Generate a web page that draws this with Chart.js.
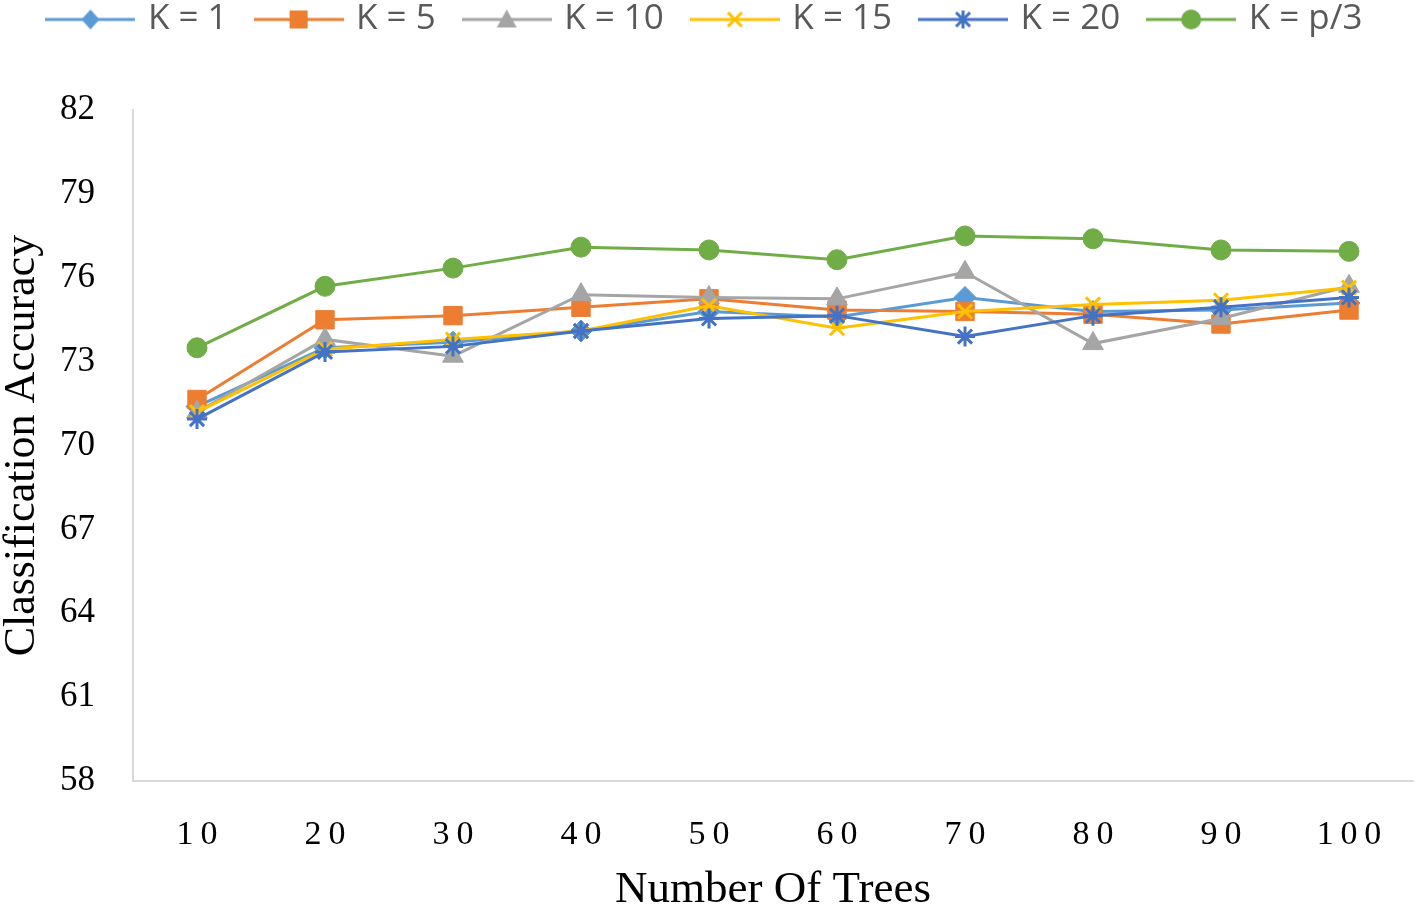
<!DOCTYPE html>
<html>
<head>
<meta charset="utf-8">
<script src="https://cdn.jsdelivr.net/npm/chart.js@4.4.1/dist/chart.umd.min.js"></script>
<style>
    html, body { margin: 0; padding: 0; background: #fff; overflow: hidden; }
    .chart-wrap { width: 1415px; height: 908px; position: relative; }
    .chart-wrap canvas { display: block; }
</style>
</head>
<body>
<div class="chart-wrap"><canvas id="accuracyChart"></canvas></div>
<script>
// Chart data
const treeCounts = ['10', '20', '30', '40', '50', '60', '70', '80', '90', '100'];
const seriesNames = ['K = 1', 'K = 5', 'K = 10', 'K = 15', 'K = 20', 'K = p/3'];
const accK1  = [71.4, 73.5, 73.7, 74.1, 74.8, 74.6, 75.3, 74.8, 74.85, 75.1];
const accK5  = [71.65, 74.5, 74.65, 74.95, 75.25, 74.85, 74.8, 74.7, 74.35, 74.85];
const accK10 = [71.2, 73.8, 73.2, 75.4, 75.3, 75.25, 76.2, 73.65, 74.55, 75.7];
const accK15 = [71.2, 73.45, 73.8, 74.1, 75.0, 74.2, 74.8, 75.05, 75.2, 75.65];
const accK20 = [70.95, 73.35, 73.55, 74.1, 74.55, 74.65, 73.9, 74.65, 74.95, 75.3];
const accKp3 = [73.5, 75.7, 76.35, 77.1, 77.0, 76.65, 77.5, 77.4, 77.0, 76.95];
const yMin = 58;
const yMax = 82;
const yStep = 3;

const seriesData = [accK1, accK5, accK10, accK15, accK20, accKp3];
const colors = ['#5B9BD5', '#ED7D31', '#A5A5A5', '#FFC000', '#4472C4', '#70AD47'];
const markers = ['rectRot', 'rect', 'triangle', 'crossRot', 'star', 'circle'];
const radii = [11, 13, 12, 10, 10, 10];

// Small line + marker icons for the legend
function makeLegendIcon(color, marker) {
    const c = document.createElement('canvas');
    c.width = 90;
    c.height = 30;
    const ctx = c.getContext('2d');
    const cx = 45, cy = 15;
    ctx.strokeStyle = color;
    ctx.fillStyle = color;
    ctx.lineWidth = 3;
    ctx.beginPath();
    ctx.moveTo(0, cy);
    ctx.lineTo(90, cy);
    ctx.stroke();
    ctx.beginPath();
    if (marker === 'rectRot') {
        ctx.moveTo(cx, cy - 10); ctx.lineTo(cx + 9, cy); ctx.lineTo(cx, cy + 10); ctx.lineTo(cx - 9, cy);
        ctx.closePath(); ctx.fill();
    } else if (marker === 'rect') {
        ctx.rect(cx - 9, cy - 9, 18, 18); ctx.fill();
    } else if (marker === 'triangle') {
        ctx.moveTo(cx, cy - 10); ctx.lineTo(cx + 10, cy + 8); ctx.lineTo(cx - 10, cy + 8);
        ctx.closePath(); ctx.fill();
    } else if (marker === 'crossRot') {
        ctx.moveTo(cx - 7, cy - 7); ctx.lineTo(cx + 7, cy + 7);
        ctx.moveTo(cx + 7, cy - 7); ctx.lineTo(cx - 7, cy + 7);
        ctx.stroke();
    } else if (marker === 'star') {
        ctx.moveTo(cx - 7, cy - 7); ctx.lineTo(cx + 7, cy + 7);
        ctx.moveTo(cx + 7, cy - 7); ctx.lineTo(cx - 7, cy + 7);
        ctx.moveTo(cx, cy - 9); ctx.lineTo(cx, cy + 9);
        ctx.stroke();
    } else {
        ctx.arc(cx, cy, 10, 0, Math.PI * 2); ctx.fill();
    }
    return c;
}
const legendIcons = colors.map((col, i) => makeLegendIcon(col, markers[i]));

const datasets = seriesNames.map((name, i) => ({
    label: name,
    data: seriesData[i],
    borderColor: colors[i],
    backgroundColor: colors[i],
    borderWidth: 3,
    tension: 0,
    fill: false,
    clip: false,
    pointStyle: markers[i],
    pointRadius: radii[i],
    pointHoverRadius: radii[i],
    pointBorderWidth: (markers[i] === 'crossRot' || markers[i] === 'star') ? 3 : 1,
    order: seriesNames.length - i
}));

const ctx = document.getElementById('accuracyChart').getContext('2d');
const accuracyChart = new Chart(ctx, {
    type: 'line',
    data: { labels: treeCounts, datasets: datasets },
    options: {
        responsive: true,
        maintainAspectRatio: false,
        animation: false,
        layout: { autoPadding: false, padding: { top: -29, right: 2, left: 0, bottom: 0 } },
        plugins: {
            legend: {
                position: 'top',
                labels: {
                    usePointStyle: true,
                    pointStyleWidth: 80,
                    padding: 31,
                    color: '#595959',
                    font: { family: 'Open Sans', size: 35 },
                    sort: (a, b) => a.datasetIndex - b.datasetIndex,
                    generateLabels: function(chart) {
                        const items = Chart.defaults.plugins.legend.labels.generateLabels(chart);
                        items.forEach(item => { item.pointStyle = legendIcons[item.datasetIndex]; });
                        return items;
                    }
                }
            },
            // empty title used as a spacer between legend and plot
            title: {
                display: true,
                text: '',
                weight: 500,
                font: { size: 1 },
                padding: { top: 0, bottom: 62 }
            },
            tooltip: { enabled: false }
        },
        scales: {
            x: {
                offset: true,
                grid: { display: false, drawTicks: false },
                border: { display: true, color: '#D9D9D9', width: 2 },
                ticks: {
                    color: '#000',
                    padding: 34,
                    font: { family: 'Liberation Serif', size: 34 },
                    callback: function(value) {
                        return this.getLabelForValue(value).split('').join('\u2009');
                    }
                },
                title: {
                    display: true,
                    text: 'Number Of Trees',
                    color: '#000',
                    font: { family: 'Liberation Serif', size: 45, lineHeight: 1 },
                    padding: { top: 0, bottom: -5 }
                },
                afterFit: function(scale) {
                    scale.height = 127;
                    scale.paddingLeft = 0;
                    scale.paddingRight = 0;
                }
            },
            y: {
                min: yMin,
                max: yMax,
                grid: { display: false, drawTicks: false },
                border: { display: true, color: '#D9D9D9', width: 2 },
                ticks: {
                    stepSize: yStep,
                    color: '#000',
                    padding: 38,
                    font: { family: 'Liberation Serif', size: 35 }
                },
                title: {
                    display: true,
                    text: 'Classification Accuracy',
                    color: '#000',
                    font: { family: 'Liberation Serif', size: 44, lineHeight: 1 },
                    padding: { top: 0, bottom: 0 }
                },
                afterFit: function(scale) { scale.width = 133; }
            }
        }
    }
});
</script>
</body>
</html>
